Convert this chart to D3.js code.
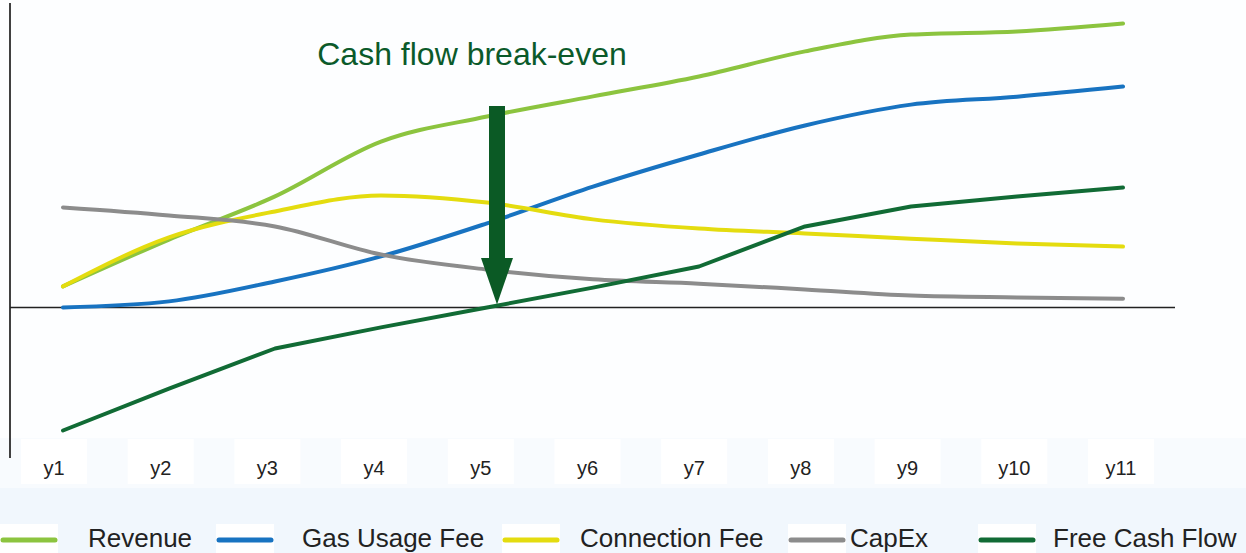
<!DOCTYPE html>
<html>
<head>
<meta charset="utf-8">
<script src="https://cdn.jsdelivr.net/npm/d3@7"></script>
<style>
  html, body { margin: 0; padding: 0; background: #ffffff; }
  svg { display: block; font-family: Arial, "Liberation Sans", sans-serif; }
</style>
</head>
<body>
<svg id="chart" width="1246" height="553"></svg>
<script>
// Years on the horizontal axis
const years = ["y1", "y2", "y3", "y4", "y5", "y6", "y7", "y8", "y9", "y10", "y11"];

// Series values (index units, zero = cash break-even line)
const revenue       = [6.9, 22.2, 36.3, 54.2, 62.4, 69.0, 75.5, 83.7, 89.2, 90.2, 92.8];
const gasUsageFee   = [0.0, 2.0, 8.5, 16.7, 27.5, 39.5, 50.0, 59.5, 66.3, 68.9, 72.2];
const connectionFee = [6.9, 22.9, 31.4, 36.6, 34.3, 28.8, 25.8, 24.2, 22.5, 20.9, 19.9];
const capEx         = [32.7, 30.1, 26.5, 17.3, 12.4, 9.2, 7.8, 5.9, 3.9, 3.3, 2.9];
const freeCashFlow  = [-40.2, -26.5, -13.4, -6.5, 0.0, 6.5, 13.4, 26.5, 33.0, 36.3, 39.2];

const seriesNames  = ["Revenue", "Gas Usage Fee", "Connection Fee", "CapEx", "Free Cash Flow"];
const seriesColors = ["#8cc43f", "#1873c1", "#e4dc0f", "#8c8c8c", "#116b35"];

const breakEvenYear = "y5";
const breakEvenLabel = "Cash flow break-even";

const series = [
  { name: seriesNames[0], values: revenue,       color: seriesColors[0], smooth: true },
  { name: seriesNames[1], values: gasUsageFee,   color: seriesColors[1], smooth: true },
  { name: seriesNames[2], values: connectionFee, color: seriesColors[2], smooth: true },
  { name: seriesNames[3], values: capEx,         color: seriesColors[3], smooth: true },
  { name: seriesNames[4], values: freeCashFlow,  color: seriesColors[4], smooth: false }
];

const svg = d3.select("#chart");
const W = 1246, H = 553;

// Background bands: plot area, axis label strip, legend strip
svg.append("rect").attr("x", 0).attr("y", 0).attr("width", W).attr("height", H).attr("fill", "#fdfeff");
svg.append("rect").attr("x", 0).attr("y", 438).attr("width", W).attr("height", 50).attr("fill", "#f8fbfe");
svg.append("rect").attr("x", 0).attr("y", 488).attr("width", W).attr("height", H - 488).attr("fill", "#f1f7fd");

const x = d3.scalePoint().domain(years).range([63, 1123]);
const xLabel = d3.scalePoint().domain(years).range([54, 1121]);
const y = d3.scaleLinear().domain([-50, 100]).range([460.5, 1.5]);

// Vertical axis line
svg.append("line")
  .attr("x1", 10).attr("x2", 10)
  .attr("y1", 3).attr("y2", 458)
  .attr("stroke", "#111").attr("stroke-width", 1.6);

// Zero line
svg.append("line")
  .attr("x1", 10).attr("x2", 1175)
  .attr("y1", y(0)).attr("y2", y(0))
  .attr("stroke", "#222").attr("stroke-width", 1.6);

// Series lines
const smoothLine = d3.line()
  .x((d, i) => x(years[i]))
  .y(d => y(d))
  .curve(d3.curveMonotoneX);
const straightLine = d3.line()
  .x((d, i) => x(years[i]))
  .y(d => y(d))
  .curve(d3.curveLinear);

svg.append("g").selectAll("path")
  .data(series)
  .join("path")
  .attr("d", s => (s.smooth ? smoothLine : straightLine)(s.values))
  .attr("fill", "none")
  .attr("stroke", s => s.color)
  .attr("stroke-width", 4)
  .attr("stroke-linecap", "round")
  .attr("stroke-linejoin", "round");

// Category labels with white boxes
const tickG = svg.append("g");
tickG.selectAll("rect")
  .data(years)
  .join("rect")
  .attr("x", d => xLabel(d) - 33)
  .attr("y", 439)
  .attr("width", 66)
  .attr("height", 45)
  .attr("fill", "#ffffff");
tickG.selectAll("text")
  .data(years)
  .join("text")
  .attr("x", d => xLabel(d))
  .attr("y", 475)
  .attr("text-anchor", "middle")
  .attr("font-size", 20)
  .attr("fill", "#222")
  .text(d => d);

// Break-even annotation: title and downward arrow
const ax = x(breakEvenYear) + 10;
const tipY = y(0) - 3;
svg.append("text")
  .attr("x", 472)
  .attr("y", 65)
  .attr("text-anchor", "middle")
  .attr("font-size", 32)
  .attr("fill", "#0b5a2a")
  .text(breakEvenLabel);
svg.append("rect")
  .attr("x", ax - 8).attr("y", 106)
  .attr("width", 16).attr("height", 154)
  .attr("fill", "#0b5a25");
svg.append("path")
  .attr("d", `M${ax - 16},258 L${ax + 16},258 L${ax},${tipY} Z`)
  .attr("fill", "#0b5a25");

// Legend
const legendItems = [
  { sx: 2,   tx: 88 },
  { sx: 218, tx: 302 },
  { sx: 504, tx: 580 },
  { sx: 790, tx: 850 },
  { sx: 980, tx: 1053 }
];
const legend = svg.append("g");
series.forEach((s, i) => {
  const it = legendItems[i];
  legend.append("rect")
    .attr("x", it.sx - 2).attr("y", 524)
    .attr("width", 58).attr("height", 30)
    .attr("fill", "#ffffff");
  legend.append("line")
    .attr("x1", it.sx + 1).attr("x2", it.sx + 53)
    .attr("y1", 540).attr("y2", 540)
    .attr("stroke", s.color)
    .attr("stroke-width", 5)
    .attr("stroke-linecap", "round");
  legend.append("text")
    .attr("x", it.tx)
    .attr("y", 547)
    .attr("font-size", 26)
    .attr("fill", "#222")
    .text(s.name);
});
</script>
</body>
</html>
